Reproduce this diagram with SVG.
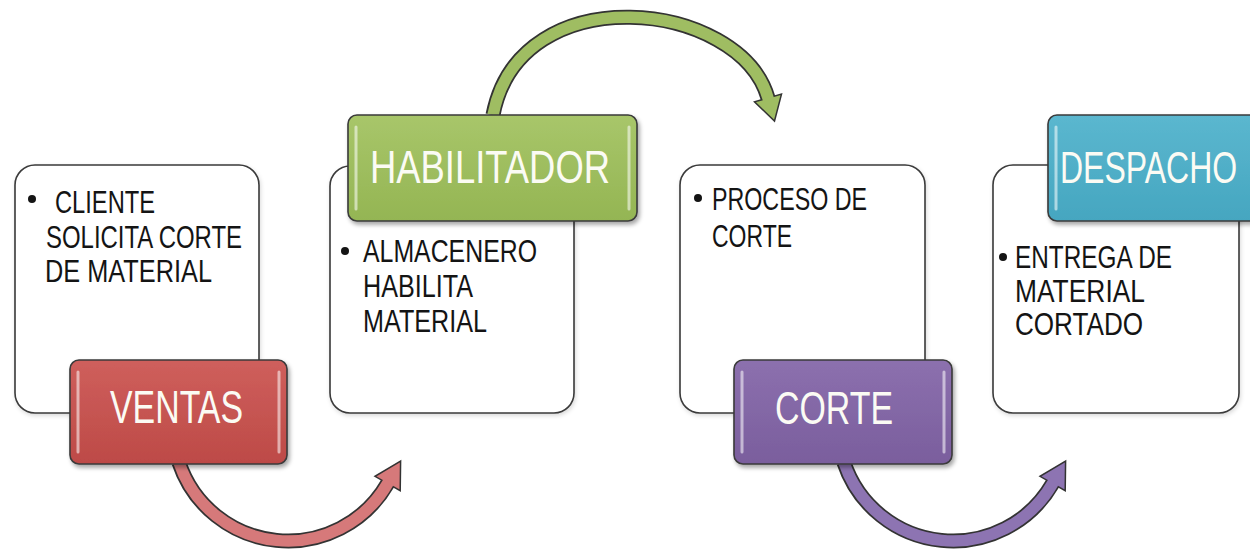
<svg xmlns="http://www.w3.org/2000/svg" width="1250" height="552" viewBox="0 0 1250 552">
  <defs>
    <filter id="sh" x="-10%" y="-10%" width="130%" height="130%">
      <feDropShadow dx="2" dy="3" stdDeviation="2" flood-color="#000" flood-opacity="0.35"/>
    </filter>
    <filter id="shl" x="-10%" y="-10%" width="130%" height="130%">
      <feDropShadow dx="1" dy="2" stdDeviation="2" flood-color="#000" flood-opacity="0.15"/>
    </filter>
    <linearGradient id="gRed" x1="0" y1="0" x2="0" y2="1">
      <stop offset="0" stop-color="#cf5f5c"/>
      <stop offset="1" stop-color="#bd4a47"/>
    </linearGradient>
    <linearGradient id="gGreen" x1="0" y1="0" x2="0" y2="1">
      <stop offset="0" stop-color="#a8c66a"/>
      <stop offset="1" stop-color="#94b553"/>
    </linearGradient>
    <linearGradient id="gPurple" x1="0" y1="0" x2="0" y2="1">
      <stop offset="0" stop-color="#8c70ae"/>
      <stop offset="1" stop-color="#7a5e9d"/>
    </linearGradient>
    <linearGradient id="gBlue" x1="0" y1="0" x2="0" y2="1">
      <stop offset="0" stop-color="#5bb7cf"/>
      <stop offset="1" stop-color="#45a6c0"/>
    </linearGradient>
  </defs>
  <style>
    .card { fill: #ffffff; stroke: #3a3a3a; stroke-width: 1.6; }
    .hdr { stroke: #3a3a3a; stroke-width: 1.6; }
    .hl { fill: none; stroke: #ffffff; stroke-opacity: 0.55; stroke-width: 3; stroke-linecap: round; }
    .body { font-family: "Liberation Sans", Arial, sans-serif; font-size: 32px; fill: #141414; }
    .title { font-family: "Liberation Sans", Arial, sans-serif; font-size: 46px; fill: #fbfbf4; }
    .bullet { fill: #141414; }
    .aout { fill: none; stroke: #333333; stroke-width: 15; }
    .head { stroke: #333333; stroke-width: 1.5; stroke-linejoin: miter; }
    .ain { fill: none; stroke-width: 11.5; }
  </style>

  <!-- white cards -->
  <g id="card-ventas"><rect class="card" x="15" y="165" width="244" height="248" rx="20" filter="url(#shl)"/></g>
  <g id="card-habilitador"><rect class="card" x="330" y="166" width="244" height="247" rx="20" filter="url(#shl)"/></g>
  <g id="card-corte"><rect class="card" x="680" y="165" width="245" height="248" rx="20" filter="url(#shl)"/></g>
  <g id="card-despacho"><rect class="card" x="993" y="165" width="246" height="248" rx="20" filter="url(#shl)"/></g>

  <!-- connectors -->
  <g id="connectors">
    <!-- ventas -> habilitador (red) -->
    <path class="aout" d="M 178.9 462.3 A 115 115 0 0 0 387.6 483.5"/>
    <polygon class="head" fill="#d6797a" points="400.2,490.7 400.6,461 375,476.3"/>
    <path class="ain" stroke="#d6797a" d="M 178.9 462.3 A 115 115 0 0 0 387.6 483.5 l 1.5 -2.6"/>
    <!-- habilitador -> corte (green) -->
    <path class="aout" d="M 493 115 C 520 -25, 740 0, 768 98"/>
    <polygon class="head" fill="#9fbd62" points="781.5,94.1 774.5,121 754.5,101.9"/>
    <path class="ain" stroke="#9fbd62" d="M 493 115 C 520 -25, 740 0, 768 98 l 0.8 2.9"/>
    <!-- corte -> despacho (purple) -->
    <path class="aout" d="M 843.9 462.3 A 115 115 0 0 0 1052.6 483.5"/>
    <polygon class="head" fill="#8d74b2" points="1065.2,490.7 1065.6,461 1040,476.3"/>
    <path class="ain" stroke="#8d74b2" d="M 843.9 462.3 A 115 115 0 0 0 1052.6 483.5 l 1.5 -2.6"/>
  </g>

  <!-- card texts -->
  <g id="text-ventas">
    <circle class="bullet" cx="32" cy="199" r="4"/>
    <text class="body" x="55" y="213" textLength="100" lengthAdjust="spacingAndGlyphs">CLIENTE</text>
    <text class="body" x="46" y="248" textLength="196" lengthAdjust="spacingAndGlyphs">SOLICITA CORTE</text>
    <text class="body" x="45" y="282" textLength="167" lengthAdjust="spacingAndGlyphs">DE MATERIAL</text>
  </g>
  <g id="text-habilitador">
    <circle class="bullet" cx="345" cy="251" r="4"/>
    <text class="body" x="363" y="262" textLength="174" lengthAdjust="spacingAndGlyphs">ALMACENERO</text>
    <text class="body" x="363" y="297" textLength="110" lengthAdjust="spacingAndGlyphs">HABILITA</text>
    <text class="body" x="363" y="332" textLength="124" lengthAdjust="spacingAndGlyphs">MATERIAL</text>
  </g>
  <g id="text-corte">
    <circle class="bullet" cx="698" cy="198" r="4"/>
    <text class="body" x="712" y="210" textLength="155" lengthAdjust="spacingAndGlyphs">PROCESO DE</text>
    <text class="body" x="712" y="247" textLength="80" lengthAdjust="spacingAndGlyphs">CORTE</text>
  </g>
  <g id="text-despacho">
    <circle class="bullet" cx="1003" cy="257" r="4"/>
    <text class="body" x="1015" y="268" textLength="157" lengthAdjust="spacingAndGlyphs">ENTREGA DE</text>
    <text class="body" x="1015" y="302" textLength="130" lengthAdjust="spacingAndGlyphs">MATERIAL</text>
    <text class="body" x="1015" y="335" textLength="128" lengthAdjust="spacingAndGlyphs">CORTADO</text>
  </g>

  <!-- header boxes -->
  <g id="ventas">
    <rect class="hdr" x="70" y="360" width="217" height="104" rx="9" fill="url(#gRed)" filter="url(#sh)"/>
    <line class="hl" x1="78" y1="372" x2="78" y2="452"/>
    <line class="hl" x1="279" y1="372" x2="279" y2="452"/>
    <text class="title" x="110" y="423" textLength="133" lengthAdjust="spacingAndGlyphs">VENTAS</text>
  </g>
  <g id="habilitador">
    <rect class="hdr" x="348" y="115" width="289" height="106" rx="9" fill="url(#gGreen)" filter="url(#sh)"/>
    <line class="hl" x1="356" y1="127" x2="356" y2="209"/>
    <line class="hl" x1="629" y1="127" x2="629" y2="209"/>
    <text class="title" x="370" y="183" textLength="240" lengthAdjust="spacingAndGlyphs">HABILITADOR</text>
  </g>
  <g id="corte">
    <rect class="hdr" x="734" y="360" width="218" height="104" rx="9" fill="url(#gPurple)" filter="url(#sh)"/>
    <line class="hl" x1="742" y1="372" x2="742" y2="452"/>
    <line class="hl" x1="944" y1="372" x2="944" y2="452"/>
    <text class="title" x="775" y="424" textLength="118" lengthAdjust="spacingAndGlyphs">CORTE</text>
  </g>
  <g id="despacho">
    <rect class="hdr" x="1048" y="115" width="222" height="106" rx="9" fill="url(#gBlue)" filter="url(#sh)"/>
    <line class="hl" x1="1056" y1="127" x2="1056" y2="209"/>
    <text class="title" transform="translate(1060 183) scale(1 1.4)" x="0" y="0" style="font-size:32px">DESPACHO</text>
  </g>
</svg>
